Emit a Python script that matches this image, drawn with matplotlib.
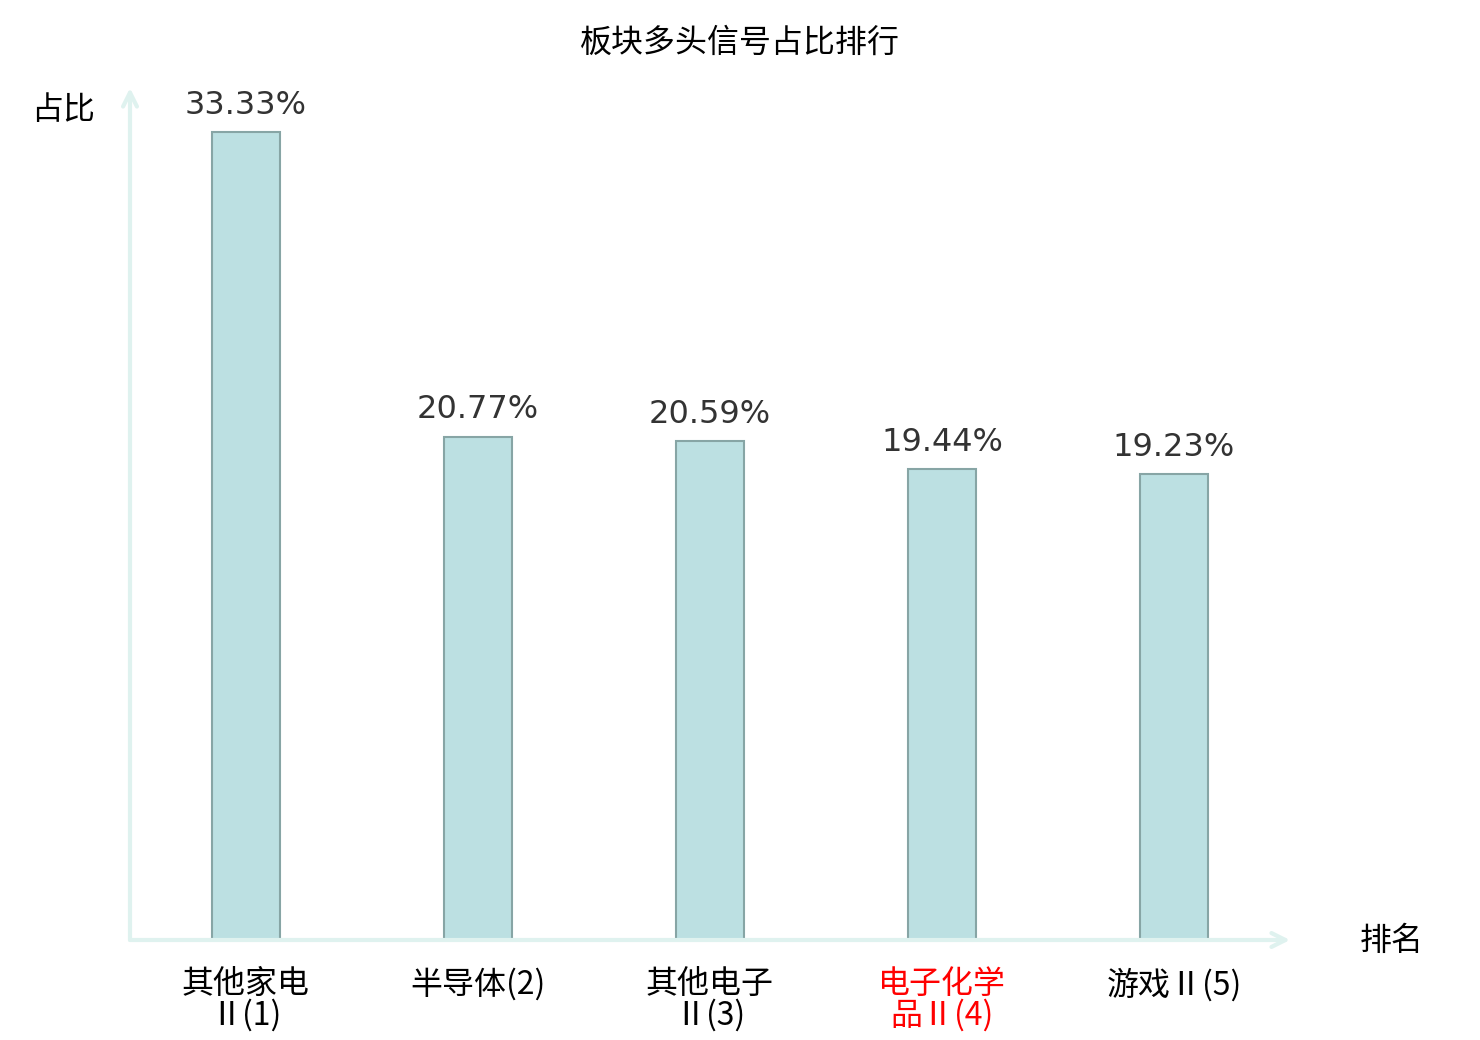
import matplotlib
matplotlib.use("Agg")
import matplotlib.pyplot as plt

plt.rcParams['font.family'] = ['Noto Sans CJK SC', 'DejaVu Sans']

categories = ["其他家电Ⅱ", "半导体", "其他电子Ⅱ", "电子化学品Ⅱ", "游戏Ⅱ"]
ranks = [1, 2, 3, 4, 5]
values = [33.33, 20.77, 20.59, 19.44, 19.23]
highlight_index = 3
title = "板块多头信号占比排行"
y_label = "占比"
x_label = "排名"


def make_label(name, rank, n=4):
    if len(name) > n:
        return f"{name[:n]}\n{name[n:]}({rank})"
    return f"{name}({rank})"


labels = [make_label(c, r) for c, r in zip(categories, ranks)]

fig = plt.figure(figsize=(14.8, 10.4), dpi=100)
ax = fig.add_axes([130 / 1480, 1 - 940 / 1040, 1160 / 1480, 852 / 1040])

x = list(range(len(categories)))
ax.bar(x, values, width=68 / 232, color="#bce0e2", edgecolor="#87a5a5", linewidth=1.5, zorder=3)
ax.set_xlim(-0.5, len(categories) - 0.5)
ax.set_ylim(0, 35.15)

for xi, v in zip(x, values):
    ax.annotate(f"{v:.2f}%", (xi, v), xytext=(0, 8), textcoords="offset points",
                ha="center", va="bottom", fontsize=23, color="#333333",
                family="DejaVu Sans")

for s in ax.spines.values():
    s.set_visible(False)
ax.set_yticks([])
ax.set_xticks(x)
ax.set_xticklabels(labels, fontsize=23, linespacing=0.95)
ax.tick_params(axis="x", length=0, pad=20)
for i, t in enumerate(ax.get_xticklabels()):
    t.set_color("red" if i == highlight_index else "black")

axis_col = "#dff2ef"
ax.annotate("", xy=(1.0, 0), xytext=(0, 0), xycoords="axes fraction",
            arrowprops=dict(arrowstyle="->,head_length=1.0,head_width=0.5", color=axis_col, lw=3,
                            shrinkA=0, shrinkB=0), annotation_clip=False)
ax.annotate("", xy=(0, 1.0), xytext=(0, 0), xycoords="axes fraction",
            arrowprops=dict(arrowstyle="->,head_length=1.0,head_width=0.5", color=axis_col, lw=3,
                            shrinkA=0, shrinkB=0), annotation_clip=False)

fig.text(740 / 1480, 1 - 43 / 1040, title, ha="center", va="center", fontsize=23, color="black")
fig.text(63 / 1480, 1 - 110 / 1040, y_label, ha="center", va="center", fontsize=23, color="black")
fig.text(1392 / 1480, 1 - 941 / 1040, x_label, ha="center", va="center", fontsize=23, color="black")

fig.savefig("out.png", dpi=100, facecolor="white")
